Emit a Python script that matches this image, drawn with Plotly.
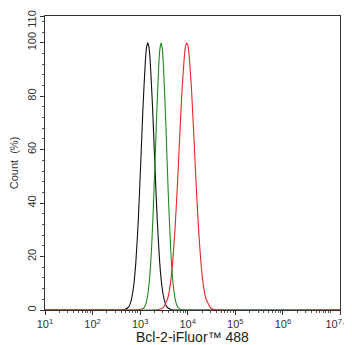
import plotly.graph_objects as go

# Fluorescence intensity (x) and normalized count % (y)
black_x = [10, 363, 457, 575, 646, 724, 813, 912, 1023, 1148, 1288, 1365, 1445, 1531, 1622, 1820, 2042, 2291, 2570, 2884, 3236, 3631, 4571, 5754, 15849000]
black_y = [0, 0, 0.1, 1.2, 3.5, 8.5, 18.0, 33.4, 54.0, 76.0, 93.4, 98.3, 100, 98.3, 93.4, 76.0, 54.0, 33.4, 18.0, 8.5, 3.5, 1.2, 0.1, 0, 0]

green_x = [10, 700, 871, 1096, 1230, 1380, 1549, 1738, 1950, 2188, 2455, 2600, 2754, 2917, 3090, 3467, 3890, 4365, 4898, 5495, 6166, 6918, 8710, 15849000]
green_y = [0, 0, 0.1, 0.4, 1.1, 3.7, 10.2, 23.2, 44.0, 69.4, 91.3, 97.7, 100, 97.7, 91.3, 69.4, 44.0, 23.2, 10.2, 3.7, 1.1, 0.3, 0, 0]

red_x = [10, 1600, 2399, 3020, 3802, 4266, 4786, 5370, 6026, 6761, 7586, 8511, 9016, 9550, 10116, 10715, 12023, 13490, 15136, 16982, 19055, 21380, 23988, 30200, 38019, 15849000]
red_y = [0, 0, 0.2, 0.8, 4.4, 9.1, 17.2, 29.5, 45.8, 64.4, 82.3, 95.2, 98.8, 100, 98.8, 95.2, 82.3, 64.4, 45.8, 29.5, 17.2, 9.1, 4.4, 0.8, 0.1, 0]

x_tickvals = [10, 100, 1000, 10000, 100000, 1000000, 15848932]
x_ticktext = ["10<sup>1</sup>", "10<sup>2</sup>", "10<sup>3</sup>", "10<sup>4</sup>",
              "10<sup>5</sup>", "10<sup>6</sup>", "10<sup>7.2</sup>\u00a0\u00a0"]
y_tickvals = [0, 20, 40, 60, 80, 100, 110]
y_ticktext = ["0", "20", "40", "60", "80", "100", "110\u00a0\u00a0\u00a0"]
x_title = "Bcl-2-iFluor™ 488"

series = [
    (black_x, black_y, "#111111"),
    (green_x, green_y, "#1e8c1e"),
    (red_x, red_y, "#e8262c"),
]

fig = go.Figure()
for xs, ys, col in series:
    fig.add_trace(go.Scatter(x=xs, y=ys, mode="lines",
                             line=dict(color=col, width=1.1, shape="spline", smoothing=0.5),
                             showlegend=False, hoverinfo="skip"))

# page body adds an 8px offset, so the figure is sized to the remaining window
fig.update_layout(
    width=344, height=337,
    margin=dict(l=37, r=12, t=8, b=35, autoexpand=False),
    paper_bgcolor="white", plot_bgcolor="white",
    font=dict(family="Liberation Sans, Arial, sans-serif", color="#333333"),
    annotations=[dict(text=x_title, xref="paper", yref="paper", x=0.5, y=-0.092,
                      xanchor="center", yanchor="middle", showarrow=False, borderpad=0,
                      font=dict(size=14, color="#222222"))],
)
fig.update_xaxes(
    type="log", range=[1, 7.2], automargin=False, ticklabeloverflow="allow",
    tickmode="array", tickvals=x_tickvals, ticktext=x_ticktext,
    ticks="outside", ticklen=4, tickwidth=1, tickcolor="#333333",
    showline=True, linecolor="#333333", linewidth=1, mirror=True,
    showgrid=False, zeroline=False,
    tickfont=dict(size=11, color="#333333"),
    minor=dict(ticks="outside", ticklen=2, tickcolor="#555555", dtick="D1", showgrid=False),
)
fig.update_yaxes(
    range=[0, 110], automargin=False, ticklabeloverflow="allow",
    tickmode="array", tickvals=y_tickvals, ticktext=y_ticktext,
    ticks="outside", ticklen=4, tickwidth=1, tickcolor="#333333",
    showline=True, linecolor="#333333", linewidth=1, mirror=True,
    showgrid=False, zeroline=False,
    tickangle=-90,
    tickfont=dict(size=11, color="#333333"),
    minor=dict(ticks="outside", ticklen=2, tickcolor="#555555", dtick=4, showgrid=False),
    title=dict(text="Count  (%)", font=dict(size=11, color="#333333"), standoff=6),
)

fig.write_html("out.html")
